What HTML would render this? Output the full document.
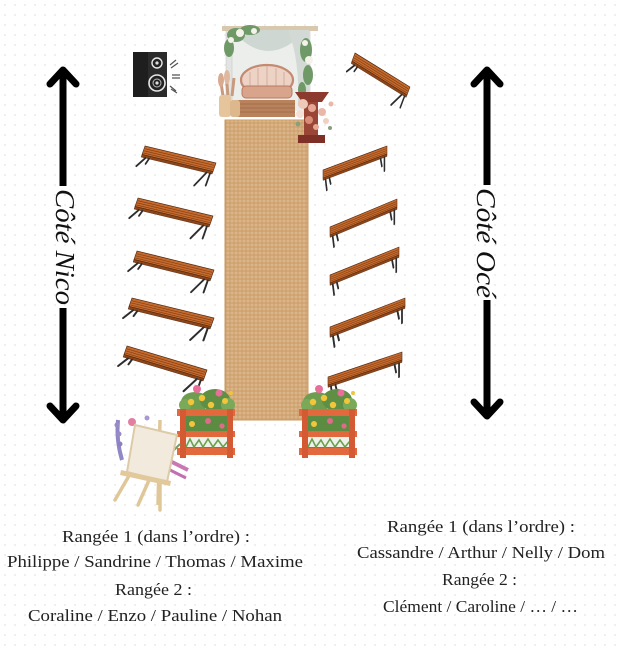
<!DOCTYPE html>
<html><head><meta charset="utf-8"><style>
html,body{margin:0;padding:0;background:#fff;}
svg{display:block;}
</style></head><body>
<svg width="618" height="650" viewBox="0 0 618 650" xmlns="http://www.w3.org/2000/svg">
<defs>
<pattern id="dots" width="10" height="10" patternUnits="userSpaceOnUse">
<circle cx="5" cy="5" r="0.9" fill="#e3e3e3"/>
</pattern>
<pattern id="jute" width="4" height="4" patternUnits="userSpaceOnUse">
<rect width="4" height="4" fill="#d4a978"/>
<path d="M0,1 H4" stroke="#e6c69e" stroke-width="0.8"/>
<path d="M2,0 V4" stroke="#bf9160" stroke-width="0.6"/>
</pattern>
<g id="lb">
<polygon points="0,0 100,0 100,10 0,10" fill="#c56a2c" stroke="#4a2510" stroke-width="0.8"/>
<path d="M1,3 H99 M1,5.5 H99 M1,8 H99" stroke="#7d3c14" stroke-width="0.7"/>
<polygon points="0,10 100,10 100,13 0,13" fill="#8c4519" stroke="#4a2510" stroke-width="0.5"/>
<path d="M6,13 L-2,24 M11,13 L9,19 M92,13 L82,30 M97,13 L97,27" stroke="#2d2d2d" stroke-width="2.4" fill="none" stroke-linecap="round"/>
</g>
<g id="rb">
<polygon points="0,0 100,0 100,10 0,10" fill="#c56a2c" stroke="#4a2510" stroke-width="0.8"/>
<path d="M1,3 H99 M1,5.5 H99 M1,8 H99" stroke="#7d3c14" stroke-width="0.7"/>
<polygon points="0,10 100,10 100,13 0,13" fill="#8c4519" stroke="#4a2510" stroke-width="0.5"/>
<path d="M4,13 L6,27 M10,13 L12,21 M96,13 L96,30 M90,13 L92,23" stroke="#2d2d2d" stroke-width="2.4" fill="none" stroke-linecap="round"/>
</g>
<g id="fbox">
<ellipse cx="195" cy="402" rx="14" ry="10" fill="#6f9d4f"/>
<ellipse cx="215" cy="400" rx="15" ry="11" fill="#5f8f44"/>
<ellipse cx="228" cy="405" rx="7" ry="7" fill="#7aa95a"/>
<ellipse cx="185" cy="405" rx="6" ry="6" fill="#7aa95a"/>
<circle cx="197" cy="389" r="4" fill="#e86f9a"/>
<circle cx="219" cy="393" r="3.5" fill="#e86f9a"/>
<circle cx="191" cy="402" r="3.2" fill="#f2c53a"/>
<circle cx="202" cy="398" r="3.2" fill="#f2c53a"/>
<circle cx="211" cy="405" r="3.2" fill="#f2c53a"/>
<circle cx="225" cy="401" r="3" fill="#f2c53a"/>
<circle cx="231" cy="393" r="2" fill="#f2c53a"/>
<rect x="182" y="414" width="48" height="40" fill="#5b8c42"/>
<circle cx="192" cy="424" r="3" fill="#f2c53a"/>
<circle cx="208" cy="421" r="3" fill="#e06a8a"/>
<circle cx="222" cy="426" r="2.6" fill="#e06a8a"/>
<rect x="182" y="437" width="48" height="10" fill="#eef2ea"/>
<path d="M186,447 L190,439 L194,447 L199,440 L203,447 L208,439 L213,447 L218,440 L223,447 L228,441" stroke="#6aa04c" stroke-width="1.6" fill="none"/>
<rect x="177" y="409" width="58" height="7" fill="#e2683e"/>
<rect x="177" y="431" width="58" height="6" fill="#e2683e"/>
<rect x="177" y="448" width="58" height="7" fill="#e2683e"/>
<rect x="180" y="409" width="6" height="49" fill="#d35a33"/>
<rect x="227" y="409" width="6" height="49" fill="#d35a33"/>
</g>
</defs>

<rect width="618" height="650" fill="#fff"/>
<rect width="618" height="650" fill="url(#dots)"/>

<!-- Arch -->
<rect x="229" y="31" width="78" height="80" fill="#eceeec"/>
<rect x="226" y="28" width="6" height="86" fill="#e2e4e2" stroke="#c6cac6" stroke-width="0.6"/>
<rect x="304" y="28" width="6" height="86" fill="#e2e4e2" stroke="#c6cac6" stroke-width="0.6"/>
<rect x="222" y="26" width="96" height="5" fill="#d8c8ae"/>
<path d="M232,30 Q268,72 306,30 Z" fill="#cfd7d3"/>
<path d="M288,30 Q300,60 298,106 L309,106 L309,30 Z" fill="#d3dad6"/>
<g fill="#6f9a68">
<ellipse cx="236" cy="35" rx="9" ry="7"/><ellipse cx="250" cy="30" rx="10" ry="5"/><ellipse cx="229" cy="48" rx="5" ry="9"/>
<ellipse cx="306" cy="50" rx="6" ry="12"/><ellipse cx="308" cy="75" rx="5" ry="10"/><ellipse cx="302" cy="90" rx="4" ry="8"/>
</g>
<g fill="#f4f2ea">
<circle cx="240" cy="33" r="4"/><circle cx="254" cy="31" r="3"/><circle cx="231" cy="40" r="3"/>
<circle cx="309" cy="60" r="4"/><circle cx="305" cy="43" r="3"/>
</g>
<!-- sofa -->
<ellipse cx="267" cy="80" rx="26" ry="15" fill="#ecd3c6" stroke="#c48a72" stroke-width="2.2"/>
<path d="M250,72 V92 M258,68 V92 M267,66 V92 M276,68 V92 M284,72 V92" stroke="#d8ad98" stroke-width="1"/>
<rect x="242" y="86" width="50" height="12" rx="4" fill="#d9a48c" stroke="#b97a60" stroke-width="1"/>
<rect x="237" y="100" width="58" height="17" fill="#b8825c"/>
<path d="M237,104 H295 M237,108 H295 M237,112 H295" stroke="#a06a48" stroke-width="0.8"/>
<!-- left vase & pampas -->
<path d="M223,96 L220,76 M228,96 L226,73 M232,96 L234,78" stroke="#c99a7c" stroke-width="3"/>
<ellipse cx="221" cy="80" rx="3" ry="7" fill="#d8aa90"/>
<ellipse cx="227" cy="77" rx="3" ry="7" fill="#e0b8a0"/>
<rect x="219" y="95" width="12" height="22" rx="3" fill="#e6c49c"/>
<rect x="230" y="100" width="10" height="17" rx="3" fill="#ddb88c"/>

<!-- Rug -->
<rect x="225" y="120" width="83" height="300" fill="url(#jute)"/>
<rect x="225" y="120" width="83" height="300" fill="none" stroke="#c8985f" stroke-width="1"/>

<!-- right flower stand -->
<polygon points="295,92 329,92 322,102 302,102" fill="#8c3a2e"/>
<rect x="304" y="102" width="14" height="34" fill="#9a4636"/>
<rect x="298" y="135" width="27" height="8" fill="#7e3026"/>
<g>
<circle cx="303" cy="104" r="5" fill="#efc8b8"/><circle cx="312" cy="108" r="4" fill="#e6a894"/>
<circle cx="300" cy="114" r="4" fill="#f4e0d6"/><circle cx="322" cy="112" r="4" fill="#e8b8a8"/>
<circle cx="309" cy="120" r="4" fill="#d98c78"/><circle cx="326" cy="121" r="3" fill="#f0d0c0"/>
<circle cx="316" cy="127" r="3" fill="#e6a894"/><circle cx="331" cy="104" r="2.5" fill="#e8b8a8"/>
<circle cx="298" cy="124" r="2.5" fill="#8aa07a"/><circle cx="330" cy="128" r="2" fill="#8aa07a"/>
</g>

<!-- Speaker -->
<rect x="133" y="52" width="34" height="45" fill="#1e1e1e"/>
<rect x="148" y="52" width="19" height="45" fill="#2b2b2b"/>
<circle cx="157" cy="63" r="5" fill="#222" stroke="#e8e8e8" stroke-width="1.4"/>
<circle cx="157" cy="63" r="1.6" fill="#ddd"/>
<circle cx="157" cy="83" r="8" fill="#222" stroke="#e8e8e8" stroke-width="1.6"/>
<circle cx="157" cy="83" r="4" fill="none" stroke="#bbb" stroke-width="1"/>
<circle cx="157" cy="83" r="1.6" fill="#ddd"/>
<path d="M170,65 L176,60 M171,68 L178,63 M172,75 L180,75 M172,78 L180,78 M170,86 L176,91 M171,89 L177,93" stroke="#555" stroke-width="1.2"/>

<!-- Left benches -->
<use href="#lb" transform="matrix(0.71,0.17,-0.3,0.85,145,146)"/>
<use href="#lb" transform="matrix(0.75,0.18,-0.3,0.85,138,198)"/>
<use href="#lb" transform="matrix(0.77,0.19,-0.3,0.85,137,251)"/>
<use href="#lb" transform="matrix(0.82,0.20,-0.3,0.85,132,298)"/>
<use href="#lb" transform="matrix(0.80,0.24,-0.3,0.85,127,346)"/>
<!-- Right benches -->
<use href="#lb" transform="matrix(0.55,0.34,-0.3,0.8,355,53)"/>
<use href="#rb" transform="matrix(0.64,-0.24,0,0.8,323,170)"/>
<use href="#rb" transform="matrix(0.67,-0.28,0,0.8,330,227)"/>
<use href="#rb" transform="matrix(0.69,-0.28,0,0.8,330,275)"/>
<use href="#rb" transform="matrix(0.75,-0.29,0,0.8,330,327)"/>
<use href="#rb" transform="matrix(0.74,-0.25,0,0.8,328,377)"/>

<!-- Flower boxes -->
<use href="#fbox"/>
<use href="#fbox" transform="translate(122,0)"/>

<!-- Easel -->
<path d="M118,420 Q116,440 122,460" stroke="#8f88c6" stroke-width="4" fill="none"/>
<circle cx="117" cy="425" r="2.5" fill="#9a8ac8"/><circle cx="119" cy="434" r="2.5" fill="#9a8ac8"/><circle cx="120" cy="444" r="2.5" fill="#8e80c0"/>
<circle cx="132" cy="422" r="4" fill="#e27ea2"/>
<circle cx="147" cy="418" r="2.5" fill="#a89ad0"/>
<path d="M168,460 L188,470" stroke="#c978b4" stroke-width="4"/>
<path d="M170,470 L186,478" stroke="#c070b0" stroke-width="3"/>
<path d="M172,452 L180,444" stroke="#7a9a6a" stroke-width="2"/>
<path d="M160,420 L158,505" stroke="#e0c799" stroke-width="3.5"/>
<path d="M130,474 L115,500" stroke="#e0c799" stroke-width="3.5" stroke-linecap="round"/>
<path d="M150,478 L138,505" stroke="#e0c799" stroke-width="3.5" stroke-linecap="round"/>
<path d="M160,480 L160,510" stroke="#e0c799" stroke-width="3.5" stroke-linecap="round"/>
<polygon points="135,425 177,435 167,482 127,472" fill="#f2ebdd" stroke="#dccaa8" stroke-width="2"/>
<polygon points="121,470 171,481 170,486 120,475" fill="#e2c99c"/>

<!-- Arrows -->
<g stroke="#000" stroke-width="7" fill="none" stroke-linecap="round" stroke-linejoin="round">
<path d="M63,74 V186 M63,308 V416" stroke-linecap="butt"/>
<path d="M50,84 L63,70 L76,84"/>
<path d="M50,406 L63,420 L76,406"/>
<path d="M487,74 V185 M487,300 V414" stroke-linecap="butt"/>
<path d="M474,84 L487,70 L500,84"/>
<path d="M474,402 L487,416 L500,402"/>
</g>
<text transform="translate(56,189) rotate(90)" font-family="Liberation Serif, serif" font-style="italic" font-size="27" fill="#111" textLength="116" lengthAdjust="spacingAndGlyphs">Côté Nico</text>
<text transform="translate(477,188) rotate(90)" font-family="Liberation Serif, serif" font-style="italic" font-size="27" fill="#111" textLength="110" lengthAdjust="spacingAndGlyphs">Côté Océ</text>

<!-- Bottom text -->
<g font-family="Liberation Serif, serif" font-size="16.5" fill="#222" text-anchor="middle">
<text x="156" y="542" textLength="188" lengthAdjust="spacingAndGlyphs">Rangée 1  (dans l’ordre) :</text>
<text x="155" y="567" textLength="296" lengthAdjust="spacingAndGlyphs">Philippe / Sandrine / Thomas / Maxime</text>
<text x="153.5" y="595" textLength="77" lengthAdjust="spacingAndGlyphs">Rangée 2 :</text>
<text x="155" y="621" textLength="254" lengthAdjust="spacingAndGlyphs">Coraline / Enzo / Pauline / Nohan</text>
<text x="481" y="532" textLength="188" lengthAdjust="spacingAndGlyphs">Rangée 1  (dans l’ordre) :</text>
<text x="481" y="558" textLength="248" lengthAdjust="spacingAndGlyphs">Cassandre / Arthur / Nelly / Dom</text>
<text x="479.5" y="585" textLength="75" lengthAdjust="spacingAndGlyphs">Rangée 2 :</text>
<text x="480.5" y="612" textLength="195" lengthAdjust="spacingAndGlyphs">Clément / Caroline / … / …</text>
</g>
</svg>
</body></html>
